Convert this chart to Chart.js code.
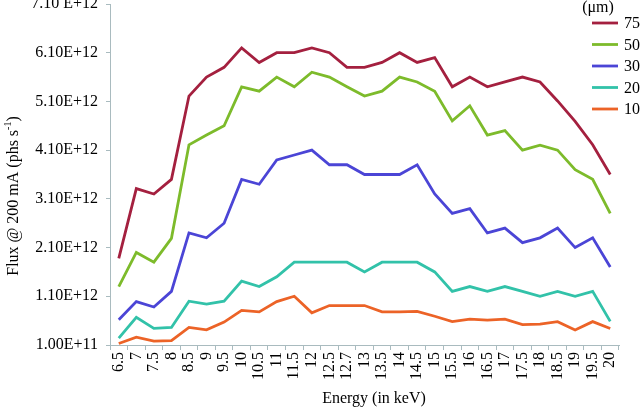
<!DOCTYPE html>
<html>
<head>
<meta charset="utf-8">
<script src="https://cdn.jsdelivr.net/npm/chart.js@4/dist/chart.umd.min.js"></script>
<style>
html,body{margin:0;padding:0;background:#fff;}
#wrap{position:relative;width:640px;height:411px;}
</style>
</head>
<body>
<div id="wrap"><canvas id="c" width="640" height="411"></canvas></div>
<script>
const energies = ['6.5','7','7.5','8','8.5','9','9.5','10','10.5','11','11.5','12','12.5','12.7','13','13.5','14','14.5','15','15.5','16','16.5','17','17.5','18','18.5','19','19.5','20'];
const seriesNames = ['75','50','30','20','10'];
const flux75 = [1.88e12,3.31e12,3.20e12,3.50e12,5.21e12,5.60e12,5.80e12,6.20e12,5.90e12,6.10e12,6.10e12,6.20e12,6.10e12,5.80e12,5.80e12,5.90e12,6.10e12,5.90e12,6.00e12,5.40e12,5.60e12,5.40e12,5.50e12,5.60e12,5.50e12,5.11e12,4.69e12,4.21e12,3.60e12];
const flux50 = [1.30e12,2.00e12,1.80e12,2.29e12,4.21e12,4.41e12,4.60e12,5.40e12,5.31e12,5.60e12,5.40e12,5.70e12,5.60e12,5.40e12,5.21e12,5.31e12,5.60e12,5.50e12,5.31e12,4.70e12,5.01e12,4.41e12,4.50e12,4.10e12,4.20e12,4.10e12,3.70e12,3.50e12,2.80e12];
const flux30 = [0.62e12,0.99e12,0.88e12,1.20e12,2.40e12,2.30e12,2.60e12,3.50e12,3.40e12,3.90e12,4.00e12,4.10e12,3.80e12,3.80e12,3.60e12,3.60e12,3.60e12,3.80e12,3.20e12,2.80e12,2.90e12,2.40e12,2.50e12,2.20e12,2.30e12,2.50e12,2.10e12,2.30e12,1.70e12];
const flux20 = [0.24e12,0.67e12,0.44e12,0.46e12,1.00e12,0.94e12,1.00e12,1.41e12,1.30e12,1.50e12,1.80e12,1.80e12,1.80e12,1.80e12,1.60e12,1.80e12,1.80e12,1.80e12,1.60e12,1.20e12,1.30e12,1.20e12,1.30e12,1.20e12,1.10e12,1.20e12,1.10e12,1.20e12,0.585e12];
const flux10 = [0.13e12,0.26e12,0.18e12,0.19e12,0.46e12,0.41e12,0.57e12,0.81e12,0.78e12,0.99e12,1.10e12,0.76e12,0.91e12,0.91e12,0.91e12,0.78e12,0.78e12,0.79e12,0.69e12,0.58e12,0.63e12,0.61e12,0.63e12,0.52e12,0.53e12,0.58e12,0.41e12,0.58e12,0.44e12];
const yTickLabels = ['1.00E+11','1.10E+12','2.10E+12','3.10E+12','4.10E+12','5.10E+12','6.10E+12','7.10 E+12'];
const legendTitle = '(\u03bcm)';
const xTitle = 'Energy (in keV)';
const yTitleMain = 'Flux @ 200 mA (phs s';
const yTitleSup = '-1';
const yTitleEnd = ')';

const colors = ['#A4203F','#7DBB2B','#4B45D6','#32C2A9','#EC6327'];
const SERIF = "'Liberation Serif','Times New Roman',serif";
const axisColor = '#A9BBBF';

const allSeries = [flux75, flux50, flux30, flux20, flux10];
const datasets = allSeries.map((d, i) => ({
  label: seriesNames[i],
  data: d,
  borderColor: colors[i],
  backgroundColor: colors[i],
  borderWidth: 2.8,
  pointRadius: 0,
  tension: 0,
  fill: false
}));

const overlay = {
  id: 'overlay',
  afterDraw(chart) {
    const ctx = chart.ctx;
    const ca = chart.chartArea;
    ctx.save();
    ctx.fillStyle = '#000';
    ctx.font = '16px ' + SERIF;
    // x title
    ctx.textAlign = 'center';
    ctx.textBaseline = 'middle';
    ctx.fillText(xTitle, 374, 399);
    // y title with superscript
    ctx.save();
    ctx.translate(13, 196);
    ctx.rotate(-Math.PI / 2);
    ctx.font = '16px ' + SERIF;
    const w1 = ctx.measureText(yTitleMain).width;
    ctx.font = '10px ' + SERIF;
    const w2 = ctx.measureText(yTitleSup).width;
    ctx.font = '16px ' + SERIF;
    const w3 = ctx.measureText(yTitleEnd).width;
    let x = -(w1 + w2 + w3) / 2;
    ctx.textAlign = 'left';
    ctx.textBaseline = 'alphabetic';
    ctx.fillText(yTitleMain, x, 5);
    x += w1;
    ctx.font = '10px ' + SERIF;
    ctx.fillText(yTitleSup, x, -2);
    x += w2;
    ctx.font = '16px ' + SERIF;
    ctx.fillText(yTitleEnd, x, 5);
    ctx.restore();
    // legend
    ctx.font = '16px ' + SERIF;
    ctx.textAlign = 'center';
    ctx.textBaseline = 'middle';
    ctx.fillText(legendTitle, 598, 8);
    const ys = [23, 44.5, 66, 87.5, 109];
    chart.data.datasets.forEach((ds, i) => {
      const y = ys[i];
      ctx.strokeStyle = ds.borderColor;
      ctx.lineWidth = 2.8;
      ctx.beginPath();
      ctx.moveTo(592, y);
      ctx.lineTo(618, y);
      ctx.stroke();
      ctx.fillStyle = '#000';
      ctx.textAlign = 'left';
      ctx.fillText(ds.label, 624, y + 1);
    });
    ctx.restore();
  }
};

new Chart(document.getElementById('c'), {
  type: 'line',
  data: { labels: energies, datasets },
  options: {
    responsive: false,
    animation: false,
    devicePixelRatio: 1,
    layout: { padding: { left: 0, right: 21, top: 4, bottom: 0 } },
    plugins: { legend: { display: false }, tooltip: { enabled: false } },
    scales: {
      x: {
        type: 'category',
        offset: true,
        grid: { display: true, drawOnChartArea: false, drawTicks: true, tickLength: 5, offset: true, color: axisColor },
        border: { display: true, color: axisColor, width: 1 },
        ticks: {
          autoSkip: false, minRotation: 90, maxRotation: 90, padding: 2,
          color: '#000', font: { family: SERIF, size: 16 }
        },
        afterFit(scale) { scale.height = 66; scale.paddingLeft = 0; scale.paddingRight = 0; }
      },
      y: {
        min: 1e11, max: 7.1e12,
        grid: { display: true, drawOnChartArea: false, drawTicks: true, tickLength: 4, color: axisColor },
        border: { display: true, color: axisColor, width: 1 },
        ticks: {
          stepSize: 1e12, padding: 8, color: '#000', font: { family: SERIF, size: 16 },
          callback: (v, i) => yTickLabels[i]
        },
        afterFit(scale) { scale.width = 110; scale.paddingTop = 0; scale.paddingBottom = 0; }
      }
    }
  },
  plugins: [overlay]
});
</script>
</body>
</html>
